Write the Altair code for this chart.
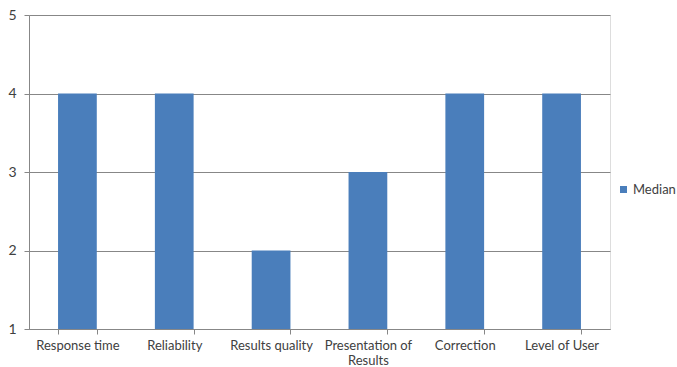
import altair as alt
import pandas as pd

categories = ["Response time", "Reliability", "Results quality",
              "Presentation of Results", "Correction", "Level of User"]
median = [4, 4, 2, 3, 4, 4]
y_ticks = [1, 2, 3, 4, 5]

df = pd.DataFrame({"category": categories, "value": median, "series": ["Median"] * len(categories)})

FONT = "Lato"
GRAY = "#878787"
TEXT = "#404040"

chart = alt.Chart(df).mark_bar(color="#4A7EBB").encode(
    x=alt.X(
        "category:N",
        sort=categories,
        title=None,
        scale=alt.Scale(paddingInner=0.6, paddingOuter=0.3),
        axis=alt.Axis(
            labelAngle=0,
            labelExpr="datum.value == 'Presentation of Results' ? ['Presentation of', 'Results'] : datum.value",
            tickBand="extent",
            tickSize=5,
            tickColor=GRAY,
            domainColor=GRAY,
            labelPadding=5,
            labelFont=FONT,
            labelFontSize=13,
            labelColor=TEXT,
            labelLineHeight=15,
            grid=False,
        ),
    ),
    y=alt.Y(
        "value:Q",
        title=None,
        scale=alt.Scale(domain=[1, 5], zero=False, nice=False),
        axis=alt.Axis(
            values=y_ticks,
            format="d",
            tickSize=5,
            tickColor=GRAY,
            domainColor=GRAY,
            gridColor=GRAY,
            labelPadding=8,
            labelFont=FONT,
            labelFontSize=14,
            labelColor=TEXT,
        ),
    ),
    y2=alt.datum(1),
    fill=alt.Fill(
        "series:N",
        title=None,
        scale=alt.Scale(range=["#4A7EBB"]),
        legend=alt.Legend(
            orient="none",
            legendX=588,
            legendY=168,
            symbolType="square",
            symbolSize=49,
            symbolStrokeWidth=0,
            labelFont=FONT,
            labelFontSize=13,
            labelColor=TEXT,
            labelOffset=3,
        ),
    ),
).properties(
    width=581,
    height=314,
    autosize=alt.AutoSizeParams(type="none"),
    padding={"left": 29, "top": 15, "right": 67, "bottom": 38},
).configure_view(
    strokeWidth=0
).configure(background="white")

chart.save("out.html", embed_options={"renderer": "svg", "actions": False})
